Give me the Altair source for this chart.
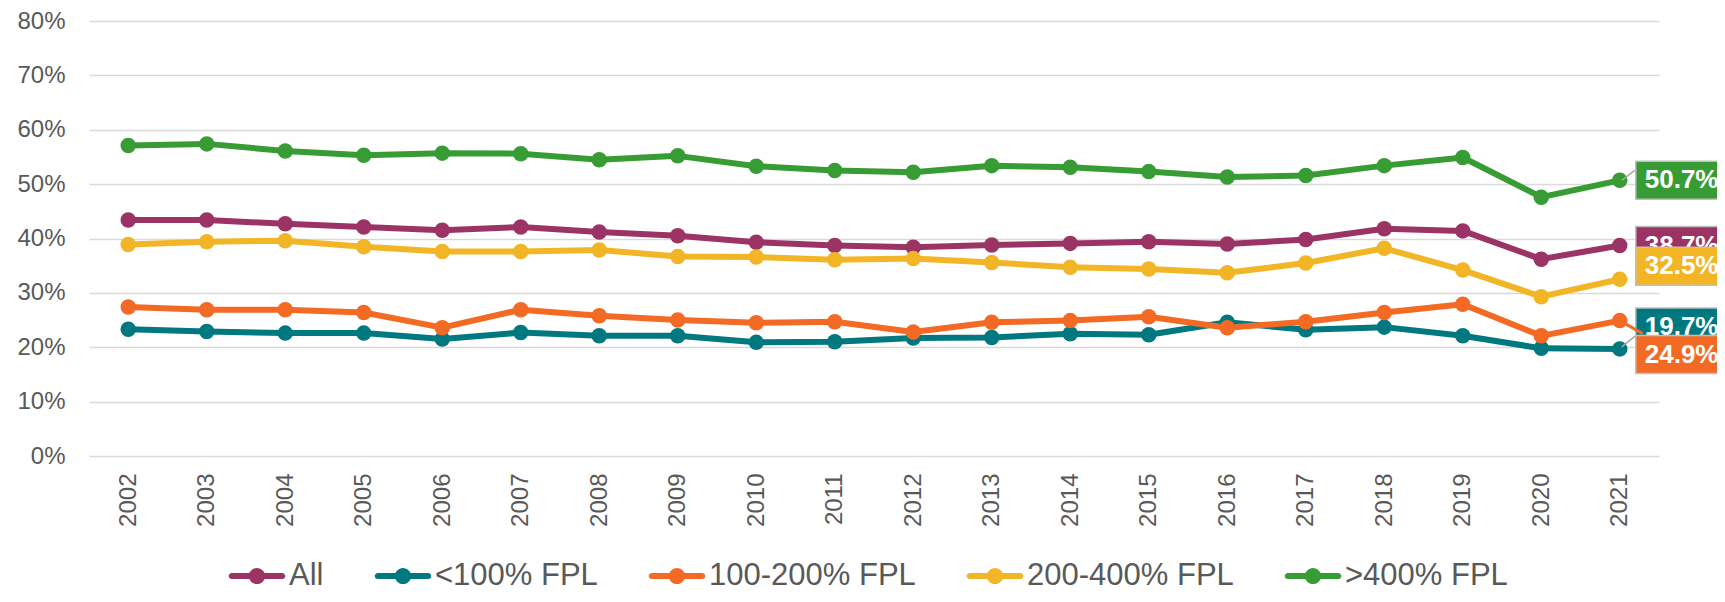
import altair as alt
import pandas as pd

years = [str(y) for y in range(2002, 2022)]
series_names = ["All", "<100% FPL", "100-200% FPL", "200-400% FPL", ">400% FPL"]
colors = ["#9B3465", "#00787F", "#F26A24", "#F2B526", "#389C35"]

all_vals = [43.4, 43.4, 42.7, 42.1, 41.5, 42.1, 41.2, 40.5, 39.3, 38.7,
            38.4, 38.8, 39.1, 39.4, 39.0, 39.8, 41.8, 41.4, 36.2, 38.7]
lt100_vals = [23.3, 22.9, 22.6, 22.6, 21.5, 22.7, 22.1, 22.1, 20.9, 21.0,
              21.7, 21.8, 22.5, 22.3, 24.6, 23.2, 23.7, 22.1, 19.8, 19.7]
r100_200_vals = [27.4, 26.9, 26.9, 26.4, 23.6, 26.9, 25.8, 25.0, 24.5, 24.7,
                 22.8, 24.6, 24.9, 25.6, 23.6, 24.7, 26.4, 27.9, 22.1, 24.9]
r200_400_vals = [38.9, 39.4, 39.6, 38.5, 37.6, 37.6, 37.9, 36.7, 36.6, 36.1,
                 36.3, 35.6, 34.7, 34.4, 33.7, 35.5, 38.2, 34.2, 29.3, 32.5]
gt400_vals = [57.1, 57.4, 56.1, 55.3, 55.7, 55.6, 54.5, 55.2, 53.3, 52.5,
              52.2, 53.4, 53.1, 52.3, 51.3, 51.6, 53.4, 54.9, 47.6, 50.7]
all_series = [all_vals, lt100_vals, r100_200_vals, r200_400_vals, gt400_vals]

rows = []
for name, vals in zip(series_names, all_series):
    for yr, v in zip(years, vals):
        rows.append({"year": yr, "series": name, "value": v})
df = pd.DataFrame(rows)

last = pd.DataFrame({
    "year": [years[-1]] * len(series_names),
    "series": series_names,
    "value": [v[-1] for v in all_series],
    "label": [f"{v[-1]:.1f}%" for v in all_series],
})

FONT = "Liberation Sans"
GRAY = "#595959"

x = alt.X("year:O", sort=years,
          scale=alt.Scale(type="point", padding=0.5),
          axis=alt.Axis(title=None, labelAngle=-90, labelFontSize=24, labelColor=GRAY,
                        labelFont=FONT, domain=False, ticks=False, labelPadding=17, grid=False))
y = alt.Y("value:Q", scale=alt.Scale(domain=[0, 80]),
          axis=alt.Axis(title=None, values=list(range(0, 81, 10)), labelExpr="datum.value + '%'",
                        labelFontSize=24, labelColor=GRAY, labelFont=FONT, grid=True,
                        gridColor="#D9D9D9", gridWidth=1.5, domain=False, ticks=False,
                        labelPadding=24))
color_scale = alt.Scale(domain=series_names, range=colors)

# filled legend glyph: rounded bar plus a dot, both drawn clockwise so they merge
legend_path = ("M-0.9,-0.11H0.9A0.11,0.11 0 0,1 0.9,0.11H-0.9A0.11,0.11 0 0,1 -0.9,-0.11Z"
               "M-0.29,0A0.29,0.29 0 1,1 0.29,0A0.29,0.29 0 1,1 -0.29,0Z")

lines = alt.Chart(df).mark_line(strokeWidth=6, strokeJoin="round", strokeCap="round").encode(
    x=x, y=y,
    color=alt.Color("series:N", scale=color_scale, sort=series_names,
                    legend=alt.Legend(title=None, orient="none", legendX=140, legendY=527,
                                      direction="horizontal", symbolType=legend_path,
                                      symbolSize=3136, symbolStrokeWidth=0,
                                      symbolFillColor="#000000", symbolOpacity=1,
                                      labelFontSize=31, labelFont=FONT, labelColor=GRAY,
                                      labelOffset=4, columnPadding=50, labelLimit=500,
                                      padding=0)),
)
points = alt.Chart(df).mark_point(filled=True, size=240, opacity=1).encode(
    x=x, y=y,
    fill=alt.Fill("series:N", scale=color_scale, legend=None),
)

layers = [lines, points]

leaders = {
    ">400% FPL": dict(color="#A6A6A6", strokeWidth=1.5, xOffset=2, yOffset=0, x2Offset=15, y2Offset=-10),
    "<100% FPL": dict(color="#A6A6A6", strokeWidth=1.5, xOffset=2, yOffset=-2, x2Offset=17, y2Offset=-14),
    "100-200% FPL": dict(color="#F26A24", strokeWidth=3, xOffset=0, yOffset=0, x2Offset=23, y2Offset=13),
}
label_offsets = {">400% FPL": 0, "All": 0, "200-400% FPL": -13, "<100% FPL": -22, "100-200% FPL": 34}
label_order = [">400% FPL", "All", "200-400% FPL", "<100% FPL", "100-200% FPL"]
box_path = "M0,-0.38H2V0.38H0Z"

for name in label_order:
    sub = last[last["series"] == name]
    col = colors[series_names.index(name)]
    off = label_offsets[name]
    if name in leaders:
        layers.append(alt.Chart(sub).mark_rule(**leaders[name]).encode(
            x=x, x2=alt.X2("year:O"), y=y, y2=alt.Y2("value:Q")))
    layers.append(alt.Chart(sub).mark_point(shape=box_path, size=10000, filled=True, fill=col,
                                            stroke="#BFBFBF", strokeWidth=1.5, opacity=1,
                                            fillOpacity=1, strokeOpacity=1,
                                            xOffset=16, yOffset=off).encode(x=x, y=y))
    layers.append(alt.Chart(sub).mark_text(align="left", baseline="middle", dx=25, dy=off,
                                           fontSize=26, fontWeight="bold", font=FONT,
                                           color="white").encode(x=x, y=y, text="label:N"))

chart = alt.layer(*layers).properties(
    width=1570, height=435,
    autosize=alt.AutoSizeParams(type="none"),
    padding={"left": 81, "top": 13, "right": 58, "bottom": 138},
    background="white",
).configure_view(stroke=None)

chart.save("out.html", embed_options={"renderer": "svg", "actions": False})
